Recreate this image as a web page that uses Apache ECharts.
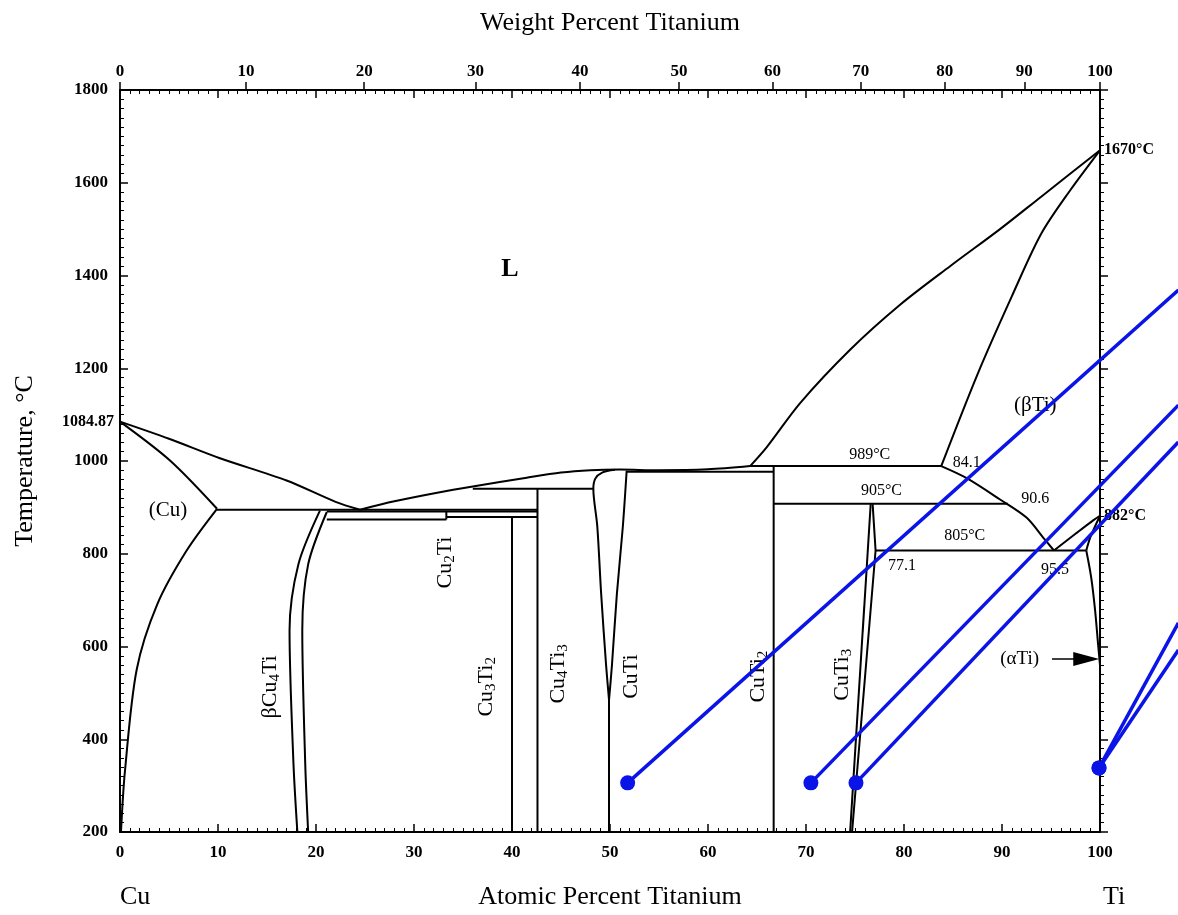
<!DOCTYPE html>
<html>
<head>
<meta charset="utf-8">
<script src="https://cdn.jsdelivr.net/npm/echarts@6/dist/echarts.min.js"></script>
<style>
  html, body { margin: 0; padding: 0; background: #fff; }
  #main { width: 1178px; height: 915px; }
</style>
</head>
<body>
<div id="main"></div>
<script>
// Cu-Ti phase diagram, atomic % Ti vs temperature (°C)
var wtTicks = [0, 10, 20, 30, 40, 50, 60, 70, 80, 90, 100];
var atTicks = [0, 10, 20, 30, 40, 50, 60, 70, 80, 90, 100];
var tempTicks = [200, 400, 600, 800, 1000, 1200, 1400, 1600, 1800];

// phase boundaries [at% Ti, °C]
var liqCu = [[0, 1084.87], [5, 1048], [10.2, 1006], [17, 958], [22, 912], [24.5, 895]];
var solCu = [[0, 1084.87], [5.1, 1001], [9.9, 897]];
var solvCu = [[9.9, 897], [6.8, 807], [3.8, 691], [1.7, 550], [0.5, 330], [0.1, 200]];
var liqMid = [[24.5, 895], [28, 913], [32.5, 932], [36, 945], [41.5, 964], [45, 975], [48, 980], [51, 981.5], [55, 980], [60, 982], [64.3, 989]];
var liqTi = [[64.3, 989], [66, 1030], [69.4, 1125], [74.5, 1240], [79.6, 1337], [84.7, 1420], [89.8, 1500], [94, 1570], [100, 1670]];
var solTi = [[83.8, 989], [87.5, 1187], [91, 1355], [94, 1490], [97, 1585], [100, 1670]];
var cu4tiL = [[20.4, 893], [18.2, 777], [17.3, 635], [17.7, 348], [18.1, 200]];
var cu4tiR = [[21.1, 890], [19.2, 777], [18.6, 635], [18.9, 348], [19.2, 200]];
var cutiL = [[50.5, 981], [49.2, 975], [48.5, 962], [48.3, 940], [48.7, 860], [49.1, 713], [49.6, 560], [49.9, 485]];
var cutiR = [[51.7, 979], [51.3, 856], [50.7, 713], [50.2, 560], [49.9, 485]];
var cuti3L = [[76.6, 907], [74.5, 200]];
var cuti3R = [[76.8, 907], [77.1, 807], [74.7, 200]];
var betaTi = [[83.8, 989], [86.4, 963], [89.8, 917], [92.5, 878], [94.2, 835], [95.3, 807]];
var betaTi2 = [[95.3, 807], [97.5, 843], [99.3, 872], [100, 882]];
var alphaTi = [[100, 882], [99.0, 835], [98.6, 807]];
var alphaSolv = [[98.6, 807], [99.1, 749], [99.5, 678], [99.8, 606], [100, 560]];

var straight = [
  [[9.9, 895], [42.6, 895]],
  [[21.1, 891], [42.6, 891]],
  [[21.1, 874], [33.3, 874]],
  [[33.3, 874], [33.3, 891]],
  [[33.3, 879], [42.6, 879]],
  [[40, 200], [40, 879]],
  [[42.6, 200], [42.6, 940]],
  [[36, 940], [48.3, 940]],
  [[49.9, 200], [49.9, 485]],
  [[51.7, 977], [66.7, 977]],
  [[66.7, 200], [66.7, 989]],
  [[64.3, 989], [83.8, 989]],
  [[66.7, 908], [90.6, 908]],
  [[77.1, 807], [98.6, 807]]
];

// blue markers and their rays (rays run past the Ti edge to the page edge)
var blueA = [[51.8, 314], [108, 1371]];
var blueB = [[70.5, 314], [108, 1124]];
var blueC = [[75.1, 314], [108, 1045]];
var blueD = [[99.9, 346], [108, 657]];
var blueE = [[99.9, 346], [108, 599]];

var arrowLine = [[95.1, 573], [98.6, 573]];

var labels = [
  { at: [39.8, 1414], text: 'L', size: 26 },
  { at: [4.9, 893], text: '(Cu)', size: 21 },
  { at: [93.4, 1120], text: '(βTi)', size: 21 },
  { at: [76.5, 1013], text: '989°C', size: 16 },
  { at: [77.7, 936], text: '905°C', size: 16 },
  { at: [86.2, 839], text: '805°C', size: 16 },
  { at: [86.4, 996], text: '84.1', size: 16 },
  { at: [93.4, 918], text: '90.6', size: 16 },
  { at: [79.8, 773], text: '77.1', size: 16 },
  { at: [95.4, 766], text: '95.5', size: 16 },
  { at: [91.8, 573], text: '(αTi)', size: 19 },
  { at: [15.3, 513], text: '{n|βCu}{s|4}{n|Ti}', rot: 90 },
  { at: [33.2, 781], text: '{n|Cu}{s|2}{n|Ti}', rot: 90 },
  { at: [37.4, 513], text: '{n|Cu}{s|3}{n|Ti}{s|2}', rot: 90 },
  { at: [44.7, 541], text: '{n|Cu}{s|4}{n|Ti}{s|3}', rot: 90 },
  { at: [52.2, 535], text: '{n|CuTi}', rot: 90 },
  { at: [65.1, 535], text: '{n|CuTi}{s|2}', rot: 90 },
  { at: [73.7, 539], text: '{n|CuTi}{s|3}', rot: 90 }
];

var FONT = '"Liberation Serif", "DejaVu Serif", serif';

function wtToAt(w) {
  var a = w / 47.867, c = (100 - w) / 63.546;
  return 100 * a / (a + c);
}
var wtPos = wtTicks.map(wtToAt);

var series = [];
function addLine(pts, smooth) {
  series.push({
    type: 'line', data: pts, showSymbol: false, smooth: smooth ? 0.3 : false,
    lineStyle: { color: '#000', width: 2 }, silent: true, animation: false
  });
}
[liqCu, solCu, solvCu, liqMid, liqTi, solTi, cu4tiL, cu4tiR, cutiL, cutiR, betaTi, betaTi2, alphaTi, alphaSolv]
  .forEach(function (p) { addLine(p, true); });
[cuti3L, cuti3R].forEach(function (p) { addLine(p, false); });
straight.forEach(function (p) { addLine(p, false); });

// arrow for (αTi)
series.push({
  type: 'line', data: [arrowLine[0], { value: arrowLine[1], symbol: 'triangle', symbolSize: [14, 26], symbolRotate: -90 }],
  showSymbol: true, symbol: 'none', lineStyle: { color: '#000', width: 1.5 },
  itemStyle: { color: '#000' }, animation: false, silent: true
});

// blue rays drawn in a second, wider cartesian with the same scale
[blueA, blueB, blueC, blueD, blueE].forEach(function (p) {
  series.push({
    type: 'line', xAxisIndex: 3, yAxisIndex: 2, showSymbol: true, animation: false, silent: true,
    data: [{ value: p[0], symbol: 'circle', symbolSize: 15 }, { value: p[1], symbol: 'none' }],
    lineStyle: { color: '#0a14e6', width: 3.5 }, itemStyle: { color: '#0a14e6', opacity: 1 }, z: 10
  });
});

// text annotations
series.push({
  type: 'scatter', symbolSize: 0, silent: true, animation: false, z: 5,
  itemStyle: { opacity: 1 },
  data: labels.map(function (l) {
    return {
      value: l.at,
      label: {
        show: true, position: 'inside', formatter: l.text, rotate: l.rot || 0,
        fontFamily: FONT, fontSize: l.size || 22, color: '#000',
        fontWeight: l.text === 'L' ? 'bold' : 'normal',
        rich: {
          n: { fontFamily: FONT, fontSize: 22, color: '#000' },
          s: { fontFamily: FONT, fontSize: 15, color: '#000', verticalAlign: 'bottom', padding: [10, 0, 0, 0] }
        }
      }
    };
  })
});

// temperature labels on frame
series.push({
  type: 'scatter', symbolSize: 0, silent: true, animation: false, clip: false,
  itemStyle: { opacity: 1 },
  data: [
    { value: [0, 1084.87], label: { show: true, position: 'left', distance: 6, formatter: '1084.87' } },
    { value: [100, 1670], label: { show: true, position: 'right', distance: 4, formatter: '1670°C' } },
    { value: [100, 882], label: { show: true, position: 'right', distance: 4, formatter: '882°C' } }
  ],
  label: { fontFamily: FONT, fontSize: 16, fontWeight: 'bold', color: '#000' }
});

var axisText = { fontFamily: FONT, fontSize: 17, fontWeight: 'bold', color: '#000' };
var nameText = { fontFamily: FONT, fontSize: 26, color: '#000' };
var plain = function (v) { return String(v); };

var option = {
  backgroundColor: '#fff',
  animation: false,
  grid: [
    { left: 120, right: 78, top: 90, bottom: 79 },
    { left: 120, right: 0, top: 90, bottom: 79 }
  ],
  xAxis: [
    {
      type: 'value', position: 'bottom', min: 0, max: 100, interval: 10,
      name: 'Atomic Percent Titanium', nameLocation: 'middle', nameGap: 52, nameTextStyle: nameText,
      axisLine: { onZero: false, lineStyle: { color: '#000', width: 2 } },
      axisTick: { inside: true, length: 8, lineStyle: { color: '#000', width: 1.5 } },
      minorTick: { show: true, splitNumber: 10, length: 4, lineStyle: { color: '#000' } },
      axisLabel: Object.assign({ margin: 12, formatter: plain }, axisText),
      splitLine: { show: false }
    },
    {
      type: 'value', position: 'top', min: 0, max: 100,
      name: 'Weight Percent Titanium', nameLocation: 'middle', nameGap: 54, nameTextStyle: nameText,
      axisLine: { onZero: false, lineStyle: { color: '#000', width: 2 } },
      axisTick: { customValues: wtPos, inside: false, length: 8, lineStyle: { color: '#000', width: 1.5 } },
      axisLabel: Object.assign({
        margin: 10, customValues: wtPos,
        formatter: function (v) {
          var i = 0, best = 1e9;
          wtPos.forEach(function (p, k) { if (Math.abs(p - v) < best) { best = Math.abs(p - v); i = k; } });
          return String(wtTicks[i]);
        }
      }, axisText),
      splitLine: { show: false }
    },
    {
      type: 'value', position: 'top', min: 0, max: 100, interval: 10,
      axisLine: { show: false },
      axisTick: { inside: true, length: 8, lineStyle: { color: '#000', width: 1.5 } },
      minorTick: { show: true, splitNumber: 10, length: 4, lineStyle: { color: '#000' } },
      axisLabel: { show: false }, splitLine: { show: false }
    },
    {
      type: 'value', gridIndex: 1, min: 0, max: 100 * 1058 / 980, show: false, splitLine: { show: false }
    }
  ],
  yAxis: [
    {
      type: 'value', position: 'left', min: 200, max: 1800, interval: 200,
      name: 'Temperature, °C', nameLocation: 'middle', nameGap: 82, nameTextStyle: nameText,
      axisLine: { onZero: false, lineStyle: { color: '#000', width: 2 } },
      axisTick: { inside: true, length: 8, lineStyle: { color: '#000', width: 1.5 } },
      minorTick: { show: true, splitNumber: 10, length: 4, lineStyle: { color: '#000' } },
      axisLabel: Object.assign({ margin: 12, formatter: plain }, axisText),
      splitLine: { show: false }
    },
    {
      type: 'value', position: 'right', min: 200, max: 1800, interval: 200,
      axisLine: { onZero: false, lineStyle: { color: '#000', width: 2 } },
      axisTick: { inside: false, length: 8, lineStyle: { color: '#000', width: 1.5 } },
      minorTick: { show: true, splitNumber: 10, length: 4, lineStyle: { color: '#000' } },
      axisLabel: { show: false }, splitLine: { show: false }
    },
    {
      type: 'value', gridIndex: 1, min: 200, max: 1800, show: false, splitLine: { show: false }
    }
  ],
  graphic: [
    { type: 'text', left: 120, top: 884, style: { text: 'Cu', font: '26px ' + FONT, fill: '#000' } },
    { type: 'text', left: 1103, top: 884, style: { text: 'Ti', font: '26px ' + FONT, fill: '#000' } }
  ],
  series: series
};

var myChart = echarts.init(document.getElementById('main'));
myChart.setOption(option);
window.addEventListener('resize', function () { myChart.resize(); });
</script>
</body>
</html>
